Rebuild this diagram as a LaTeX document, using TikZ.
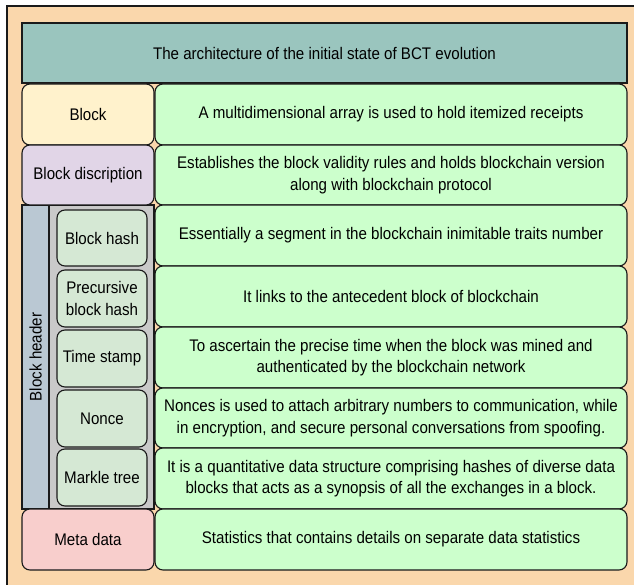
\documentclass[tikz,border=0pt]{standalone}
\usepackage{fontspec}
\setmainfont{Liberation Sans}[FakeStretch=0.9]
\definecolor{peach}{HTML}{FAD7AC}
\definecolor{titlefill}{HTML}{9AC5BE}
\definecolor{yellowfill}{HTML}{FFF2CC}
\definecolor{purplefill}{HTML}{E1D5E7}
\definecolor{steelfill}{HTML}{BAC8D3}
\definecolor{grayfill}{HTML}{C9C9C9}
\definecolor{sagefill}{HTML}{D5E8D4}
\definecolor{mintfill}{HTML}{CCFFCC}
\definecolor{pinkfill}{HTML}{F8CECC}
\definecolor{edge}{HTML}{1A1A1A}
\begin{document}
\begin{tikzpicture}[x=1pt,y=-1pt,
  font=\fontsize{16.8}{21.5}\selectfont,
  base/.style={draw=edge,line width=1.1pt,inner sep=0pt,outer sep=0pt,anchor=north west,align=center},
  card/.style={base,rounded corners=8pt},
  flat/.style={base}]
% canvas and frame
\useasboundingbox (0,0) rectangle (634,585);
\fill[peach] (7,6) rectangle (640,590);
\draw[edge,line width=1.3pt] (7,590) -- (7,6) -- (640,6);
% title
\node[flat,fill=titlefill,minimum width=605pt,minimum height=60pt] (title) at (22,23)
  {The architecture of the initial state of BCT evolution};
% block header grouping strips
\node[flat,fill=steelfill,minimum width=27pt,minimum height=304pt] (hdr) at (22,205) {};
\node[rotate=90] (hdrlabel) at (hdr.center) {Block header};
\node[flat,fill=grayfill,minimum width=105pt,minimum height=304pt] (grey) at (49,205) {};
% left column
\node[card,fill=yellowfill,minimum width=132pt,minimum height=61pt] (blk) at (22,84) {Block};
\node[card,fill=purplefill,minimum width=132pt,minimum height=60pt] (desc) at (22,145) {Block discription};
\node[card,fill=sagefill,minimum width=90pt,minimum height=56pt] (bh) at (57,210) {Block hash};
\node[card,fill=sagefill,minimum width=90pt,minimum height=57pt] (pbh) at (57,270) {Precursive\\block hash};
\node[card,fill=sagefill,minimum width=90pt,minimum height=57pt] (ts) at (57,330) {Time stamp};
\node[card,fill=sagefill,minimum width=90pt,minimum height=57pt] (nonce) at (57,390) {Nonce};
\node[card,fill=sagefill,minimum width=90pt,minimum height=57pt] (mt) at (57,449) {Markle tree};
\node[card,fill=pinkfill,minimum width=132pt,minimum height=61pt] (meta) at (22,509) {Meta data};
% right column
\node[card,fill=mintfill,minimum width=472pt,minimum height=61pt] (blkR) at (155,84)
  {A multidimensional array is used to hold itemized receipts};
\node[card,fill=mintfill,minimum width=472pt,minimum height=60pt] (descR) at (155,145)
  {Establishes the block validity rules and holds blockchain version\\along with blockchain protocol};
\node[card,fill=mintfill,minimum width=472pt,minimum height=61pt] (bhR) at (155,205)
  {Essentially a segment in the blockchain inimitable traits number};
\node[card,fill=mintfill,minimum width=472pt,minimum height=61pt] (pbhR) at (155,266)
  {It links to the antecedent block of blockchain};
\node[card,fill=mintfill,minimum width=472pt,minimum height=61pt] (tsR) at (155,327)
  {To ascertain the precise time when the block was mined and\\authenticated by the blockchain network};
\node[card,fill=mintfill,minimum width=472pt,minimum height=60pt] (nonceR) at (155,388)
  {Nonces is used to attach arbitrary numbers to communication, while\\in encryption, and secure personal conversations from spoofing.};
\node[card,fill=mintfill,minimum width=472pt,minimum height=61pt] (mtR) at (155,448)
  {It is a quantitative data structure comprising hashes of diverse data\\blocks that acts as a synopsis of all the exchanges in a block.};
\node[card,fill=mintfill,minimum width=472pt,minimum height=61pt] (metaR) at (155,509)
  {Statistics that contains details on separate data statistics};
\end{tikzpicture}
\end{document}
